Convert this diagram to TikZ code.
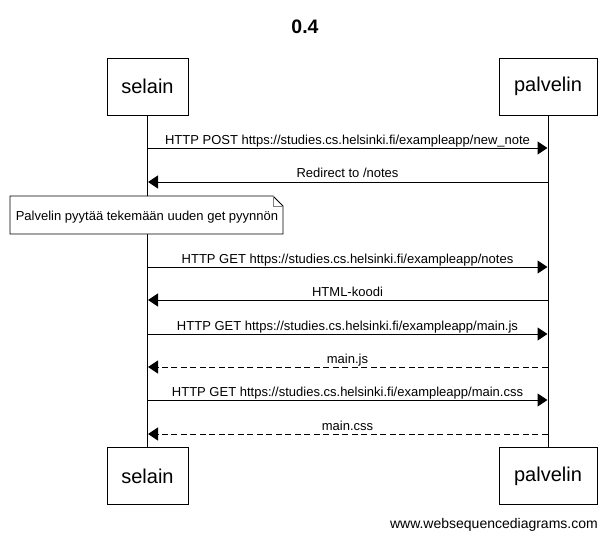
\documentclass[tikz,border=0pt]{standalone}
\usepackage{fontspec}
\setmainfont{Liberation Sans}
\usetikzlibrary{arrows.meta}
\begin{document}
\begin{tikzpicture}[x=1pt,y=-1pt,
  actor/.style={draw,line width=1pt,minimum height=57pt,inner sep=0pt,font=\fontsize{20}{24}\selectfont},
  lifeline/.style={line width=1pt},
  msg/.style={line width=1pt,-{Triangle[length=10pt,width=13pt]}},
  reply/.style={msg,dash pattern=on 6pt off 3.5pt},
  lbl/.style={anchor=base,inner sep=0pt,font=\fontsize{13}{15}\selectfont}]
\useasboundingbox[fill=white] (0,0) rectangle (608,538);
\node[font=\bfseries\fontsize{19.5}{23}\selectfont] (title) at (305,27) {0.4};
\node[actor,minimum width=81pt] (st) at (147.5,86.5) {selain};
\node[actor,minimum width=98pt] (pt) at (548,86.5) {palvelin};
\node[actor,minimum width=81pt] (sb) at (147.5,476) {selain};
\node[actor,minimum width=98pt] (pb) at (548,476) {palvelin};
\draw[lifeline] (st.south) -- (sb.north);
\draw[lifeline] (pt.south) -- (pb.north);
% message endpoints
\foreach \n/\y in {1/148,2/182,3/267,4/300,5/334,6/367,7/400,8/434}{
  \coordinate (s\n) at (148,\y);
  \coordinate (p\n) at (547.5,\y);
}
\draw[msg] (s1) -- (p1);
\node[lbl] (l1) at (347.5,144) {HTTP POST https://studies.cs.helsinki.fi/exampleapp/new\_note};
\draw[msg] (p2) -- (s2);
\node[lbl] (l2) at (347.5,177.5) {Redirect to /notes};
% note
\draw[line width=0.8pt,fill=white] (10,196) -- (273,196) -- (283,206) -- (283,234) -- (10,234) -- cycle;
\draw[line width=0.8pt,gray] (273,196) -- (273,206) -- (283,206);
\node[lbl] (note) at (147,220) {Palvelin pyytää tekemään uuden get pyynnön};
\draw[msg] (s3) -- (p3);
\node[lbl] (l3) at (347.5,263) {HTTP GET https://studies.cs.helsinki.fi/exampleapp/notes};
\draw[msg] (p4) -- (s4);
\node[lbl] (l4) at (347.5,296) {HTML-koodi};
\draw[msg] (s5) -- (p5);
\node[lbl] (l5) at (347.5,330) {HTTP GET https://studies.cs.helsinki.fi/exampleapp/main.js};
\draw[reply] (p6) -- (s6);
\node[lbl] (l6) at (347.5,363) {main.js};
\draw[msg] (s7) -- (p7);
\node[lbl] (l7) at (347.5,396) {HTTP GET https://studies.cs.helsinki.fi/exampleapp/main.css};
\draw[reply] (p8) -- (s8);
\node[lbl] (l8) at (347.5,430) {main.css};
\node[anchor=base east,inner sep=0pt,font=\fontsize{14}{16}\selectfont] (foot) at (598,528) {www.websequencediagrams.com};
\end{tikzpicture}
\end{document}
